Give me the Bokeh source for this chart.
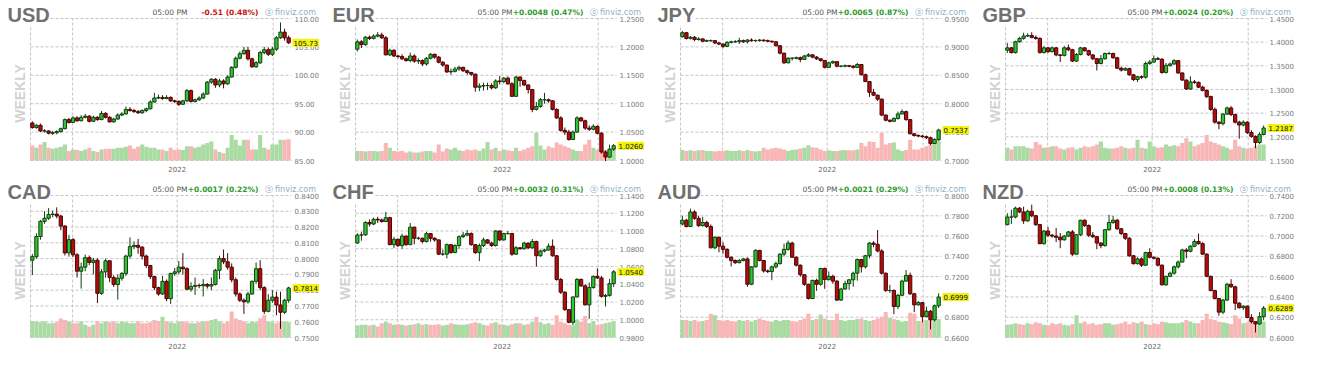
import math
from bokeh.plotting import figure
from bokeh.models import Range1d, Label, ColumnDataSource
from bokeh.layouts import gridplot
from bokeh.embed import file_html
from bokeh.resources import INLINE

# ---------------- data (weekly candles, 64 weeks, last = week of 25 Jul 2022) ----------------
X_GRID = [-0.44, 9.9, 35.6, 59.2]
YEAR_LABEL_X = 35.6
YEAR_LABEL = "2022"

USD_OPEN0 = 91.6
USD_CLOSE = [90.8, 91.2, 90.2, 90.2, 89.8, 89.9, 90.1, 90.6, 92.2, 91.7,
             92.5, 92.0, 92.6, 92.8, 91.9, 92.6, 92.2, 93.3, 92.6, 91.8,
             92.3, 93.0, 93.2, 94.0, 93.8, 93.6, 93.4, 93.8, 94.1, 95.3,
             96.0, 96.1, 95.9, 96.1, 95.5, 95.4, 94.9, 95.5, 97.3, 95.4,
             95.7, 96.0, 96.7, 98.8, 99.3, 98.3, 99.0, 98.5, 99.7, 101.4,
             103.0, 103.8, 104.4, 102.9, 101.5, 102.2, 104.0, 104.5, 103.7, 104.6,
             106.6, 107.6, 106.6, 105.73]
USD_HIGH = [91.9, 91.4, 91.5, 90.5, 90.3, 90.2, 90.3, 90.8, 92.4, 92.5,
            92.8, 92.8, 93.0, 93.2, 93.0, 92.9, 92.8, 93.7, 93.5, 92.8,
            92.5, 93.3, 93.5, 94.5, 94.4, 94.1, 93.9, 94.0, 94.3, 95.6,
            96.9, 96.6, 96.5, 96.5, 96.3, 95.7, 95.6, 95.7, 97.6, 97.5,
            95.9, 96.3, 97.0, 99.0, 99.5, 99.5, 99.4, 99.3, 100.0, 101.6,
            103.3, 104.2, 105.0, 105.0, 103.1, 102.5, 104.3, 105.0, 104.9, 105.0,
            106.9, 109.3, 108.2, 107.0]
USD_LOW = [90.6, 90.6, 90.0, 89.9, 89.6, 89.5, 89.6, 89.9, 90.5, 91.5,
           91.6, 91.8, 91.9, 92.4, 91.7, 91.8, 92.0, 92.1, 92.4, 91.7,
           91.7, 92.2, 92.8, 93.1, 93.6, 93.4, 93.2, 93.2, 93.5, 94.0,
           95.2, 95.8, 95.7, 95.8, 95.3, 95.1, 94.6, 94.8, 95.3, 95.2,
           95.2, 95.5, 95.8, 96.6, 98.5, 97.8, 97.9, 97.7, 98.3, 99.6,
           101.2, 102.8, 103.6, 102.6, 101.3, 101.3, 102.0, 103.7, 103.4, 103.4,
           104.3, 106.4, 106.1, 105.5]
USD_VOL = [47, 40, 50, 58, 40, 37, 40, 43, 50, 30, 35, 33, 30, 35, 40, 30, 27, 35, 37, 37,
           37, 40, 40, 43, 47, 37, 43, 50, 43, 40, 40, 35, 35, 30, 40, 33, 35, 33, 45, 45,
           40, 43, 50, 55, 60, 35, 27, 23, 40, 80, 65, 47, 65, 65, 35, 35, 80, 40, 35, 50,
           50, 65, 65, 67]

EUR_OPEN0 = 1.196
EUR_CLOSE = [1.209, 1.204, 1.217, 1.215, 1.219, 1.221, 1.216, 1.186, 1.194, 1.184,
             1.183, 1.179, 1.176, 1.184, 1.175, 1.176, 1.170, 1.180, 1.187, 1.182,
             1.173, 1.168, 1.156, 1.157, 1.161, 1.164, 1.158, 1.155, 1.152, 1.129,
             1.131, 1.132, 1.132, 1.128, 1.140, 1.139, 1.145, 1.135, 1.113, 1.147,
             1.141, 1.133, 1.125, 1.090, 1.095, 1.107, 1.107, 1.105, 1.090, 1.075,
             1.053, 1.050, 1.037, 1.050, 1.075, 1.070, 1.057, 1.055, 1.060, 1.048,
             1.015, 1.006, 1.020, 1.026]
EUR_HIGH = [1.213, 1.212, 1.219, 1.220, 1.222, 1.226, 1.225, 1.219, 1.197, 1.196,
            1.186, 1.187, 1.181, 1.190, 1.187, 1.180, 1.178, 1.182, 1.189, 1.188,
            1.184, 1.175, 1.169, 1.162, 1.165, 1.167, 1.165, 1.160, 1.156, 1.153,
            1.136, 1.137, 1.137, 1.136, 1.143, 1.149, 1.147, 1.148, 1.138, 1.149,
            1.148, 1.142, 1.134, 1.126, 1.103, 1.110, 1.119, 1.109, 1.106, 1.092,
            1.078, 1.058, 1.054, 1.053, 1.078, 1.077, 1.072, 1.062, 1.064, 1.062,
            1.050, 1.018, 1.028, 1.029]
EUR_LOW = [1.192, 1.198, 1.202, 1.212, 1.213, 1.217, 1.214, 1.185, 1.184, 1.182,
           1.180, 1.177, 1.174, 1.173, 1.172, 1.170, 1.166, 1.167, 1.178, 1.179,
           1.171, 1.165, 1.154, 1.151, 1.155, 1.158, 1.156, 1.151, 1.149, 1.121,
           1.122, 1.123, 1.124, 1.125, 1.126, 1.134, 1.136, 1.133, 1.112, 1.112,
           1.130, 1.131, 1.118, 1.085, 1.088, 1.093, 1.100, 1.102, 1.088, 1.073,
           1.051, 1.045, 1.035, 1.036, 1.049, 1.068, 1.054, 1.052, 1.053, 1.046,
           1.012, 0.999, 1.005, 1.017]
EUR_VOL = [30, 30, 28, 30, 30, 28, 30, 55, 40, 30, 28, 30, 25, 28, 25, 25, 28, 30, 30, 25,
           50, 28, 38, 35, 40, 32, 30, 35, 32, 35, 30, 38, 58, 35, 40, 30, 35, 32, 30, 40,
           30, 35, 40, 45, 87, 47, 35, 45, 40, 57, 50, 45, 40, 35, 30, 30, 50, 65, 40, 35,
           30, 32, 35, 38]

JPY_OPEN0 = 0.918
JPY_CLOSE = [0.925, 0.915, 0.917, 0.913, 0.914, 0.910, 0.911, 0.911, 0.907, 0.905,
             0.901, 0.908, 0.909, 0.909, 0.911, 0.909, 0.912, 0.911, 0.911, 0.912,
             0.911, 0.910, 0.909, 0.902, 0.889, 0.872, 0.880, 0.880, 0.881, 0.878,
             0.884, 0.886, 0.882, 0.879, 0.876, 0.864, 0.872, 0.874, 0.866, 0.866,
             0.867, 0.866, 0.864, 0.869, 0.851, 0.839, 0.820, 0.815, 0.808, 0.780,
             0.771, 0.769, 0.774, 0.782, 0.786, 0.772, 0.747, 0.744, 0.743, 0.742,
             0.740, 0.730, 0.737, 0.7537]
JPY_HIGH = [0.928, 0.926, 0.919, 0.919, 0.917, 0.915, 0.913, 0.913, 0.912, 0.909,
            0.906, 0.910, 0.911, 0.912, 0.916, 0.913, 0.914, 0.915, 0.913, 0.914,
            0.913, 0.913, 0.911, 0.910, 0.903, 0.890, 0.882, 0.882, 0.883, 0.883,
            0.886, 0.889, 0.887, 0.884, 0.880, 0.877, 0.874, 0.876, 0.875, 0.868,
            0.869, 0.868, 0.868, 0.872, 0.870, 0.853, 0.840, 0.826, 0.816, 0.809,
            0.781, 0.772, 0.776, 0.786, 0.790, 0.788, 0.773, 0.748, 0.746, 0.745,
            0.744, 0.742, 0.739, 0.756]
JPY_LOW = [0.916, 0.913, 0.913, 0.910, 0.911, 0.908, 0.909, 0.909, 0.905, 0.903,
           0.898, 0.900, 0.906, 0.907, 0.905, 0.907, 0.906, 0.909, 0.909, 0.909,
           0.909, 0.908, 0.907, 0.901, 0.887, 0.870, 0.871, 0.876, 0.878, 0.873,
           0.877, 0.882, 0.880, 0.877, 0.874, 0.862, 0.863, 0.870, 0.864, 0.864,
           0.864, 0.864, 0.862, 0.863, 0.850, 0.838, 0.812, 0.814, 0.805, 0.778,
           0.769, 0.767, 0.768, 0.772, 0.781, 0.770, 0.746, 0.742, 0.741, 0.740,
           0.738, 0.727, 0.729, 0.735]
JPY_VOL = [33, 30, 32, 30, 32, 33, 30, 30, 28, 30, 30, 32, 30, 30, 32, 30, 33, 30, 28, 30,
           40, 35, 38, 40, 38, 35, 30, 33, 35, 38, 40, 48, 42, 40, 35, 30, 32, 30, 30, 32,
           33, 32, 32, 35, 55, 45, 60, 58, 40, 87, 50, 55, 57, 35, 30, 33, 65, 35, 35, 40,
           45, 50, 60, 65]

GBP_OPEN0 = 1.383
GBP_CLOSE = [1.388, 1.378, 1.401, 1.408, 1.413, 1.414, 1.410, 1.408, 1.378, 1.388,
             1.380, 1.388, 1.373, 1.372, 1.388, 1.384, 1.360, 1.374, 1.388, 1.382,
             1.373, 1.365, 1.355, 1.365, 1.376, 1.376, 1.367, 1.345, 1.341, 1.344,
             1.331, 1.321, 1.327, 1.326, 1.355, 1.358, 1.365, 1.364, 1.336, 1.351,
             1.354, 1.361, 1.335, 1.320, 1.301, 1.316, 1.315, 1.305, 1.298, 1.285,
             1.258, 1.231, 1.228, 1.248, 1.261, 1.247, 1.231, 1.225, 1.231, 1.209,
             1.201, 1.188, 1.205, 1.2187]
GBP_HIGH = [1.398, 1.390, 1.403, 1.411, 1.420, 1.419, 1.421, 1.414, 1.410, 1.392,
            1.390, 1.391, 1.390, 1.375, 1.392, 1.395, 1.386, 1.377, 1.390, 1.389,
            1.384, 1.375, 1.366, 1.373, 1.378, 1.380, 1.378, 1.369, 1.348, 1.347,
            1.346, 1.333, 1.329, 1.330, 1.359, 1.362, 1.372, 1.369, 1.366, 1.356,
            1.357, 1.364, 1.362, 1.336, 1.321, 1.328, 1.320, 1.317, 1.308, 1.300,
            1.287, 1.262, 1.233, 1.250, 1.264, 1.265, 1.249, 1.234, 1.235, 1.233,
            1.214, 1.203, 1.210, 1.224]
GBP_LOW = [1.377, 1.376, 1.376, 1.399, 1.405, 1.411, 1.408, 1.405, 1.376, 1.376,
           1.377, 1.378, 1.370, 1.358, 1.370, 1.381, 1.358, 1.358, 1.372, 1.380,
           1.371, 1.362, 1.340, 1.353, 1.363, 1.373, 1.365, 1.343, 1.338, 1.339,
           1.329, 1.318, 1.316, 1.322, 1.323, 1.352, 1.356, 1.362, 1.333, 1.334,
           1.348, 1.352, 1.333, 1.318, 1.299, 1.299, 1.312, 1.303, 1.296, 1.282,
           1.255, 1.228, 1.216, 1.224, 1.246, 1.244, 1.228, 1.196, 1.222, 1.206,
           1.198, 1.176, 1.185, 1.203]
GBP_VOL = [40, 35, 45, 45, 45, 40, 38, 58, 50, 40, 42, 45, 45, 38, 35, 40, 42, 35, 40, 45,
           42, 45, 50, 60, 40, 38, 38, 40, 45, 40, 38, 40, 65, 40, 38, 60, 45, 40, 42, 50,
           45, 48, 45, 55, 70, 60, 45, 50, 55, 80, 60, 55, 50, 45, 40, 35, 65, 45, 40, 38,
           40, 45, 50, 50]

CAD_OPEN0 = 0.7990
CAD_CLOSE = [0.8012, 0.8140, 0.8236, 0.8256, 0.8280, 0.8282, 0.8270, 0.8206, 0.8036, 0.8120,
             0.8024, 0.7920, 0.7946, 0.8006, 0.7976, 0.7990, 0.7780, 0.7916, 0.7986, 0.7880,
             0.7836, 0.7876, 0.7906, 0.8016, 0.8076, 0.8084, 0.8072, 0.8016, 0.7956, 0.7886,
             0.7816, 0.7776, 0.7856, 0.7746, 0.7906, 0.7916, 0.7946, 0.7936, 0.7806, 0.7824,
             0.7830, 0.7828, 0.7836, 0.7826, 0.7836, 0.7926, 0.8000, 0.7980, 0.7946, 0.7866,
             0.7776, 0.7736, 0.7726, 0.7776, 0.7856, 0.7936, 0.7816, 0.7666, 0.7736, 0.7756,
             0.7706, 0.7660, 0.7736, 0.7814]
CAD_HIGH = [0.8030, 0.8160, 0.8245, 0.8300, 0.8320, 0.8305, 0.8325, 0.8278, 0.8212, 0.8150,
            0.8130, 0.8035, 0.7975, 0.8025, 0.8020, 0.8005, 0.8002, 0.7935, 0.8000, 0.7990,
            0.7895, 0.7900, 0.7915, 0.8025, 0.8135, 0.8110, 0.8125, 0.8080, 0.8025, 0.7960,
            0.7892, 0.7822, 0.7890, 0.7868, 0.7910, 0.7940, 0.7985, 0.8035, 0.7945, 0.7850,
            0.7880, 0.7842, 0.7870, 0.7845, 0.7880, 0.7935, 0.8018, 0.8058, 0.8035, 0.7970,
            0.7880, 0.7786, 0.7748, 0.7790, 0.7862, 0.7975, 0.7990, 0.7825, 0.7775, 0.7800,
            0.7790, 0.7790, 0.7745, 0.7822]
CAD_LOW = [0.7896, 0.8000, 0.8120, 0.8220, 0.8245, 0.8262, 0.8255, 0.8180, 0.8020, 0.8012,
           0.8010, 0.7880, 0.7810, 0.7920, 0.7958, 0.7900, 0.7718, 0.7770, 0.7880, 0.7850,
           0.7820, 0.7740, 0.7860, 0.7890, 0.8000, 0.8060, 0.8030, 0.7995, 0.7940, 0.7870,
           0.7800, 0.7765, 0.7770, 0.7730, 0.7712, 0.7890, 0.7900, 0.7900, 0.7800, 0.7790,
           0.7770, 0.7812, 0.7760, 0.7810, 0.7800, 0.7830, 0.7870, 0.7965, 0.7930, 0.7850,
           0.7760, 0.7725, 0.7650, 0.7715, 0.7770, 0.7840, 0.7800, 0.7648, 0.7660, 0.7720,
           0.7640, 0.7555, 0.7650, 0.7720]
CAD_VOL = [52, 50, 48, 50, 45, 45, 48, 60, 55, 50, 45, 45, 50, 40, 35, 40, 50, 45, 50, 48,
           50, 45, 50, 48, 45, 45, 50, 45, 45, 48, 55, 52, 65, 50, 48, 45, 50, 50, 48, 45,
           45, 48, 50, 52, 55, 58, 50, 45, 50, 82, 60, 55, 50, 45, 50, 48, 60, 70, 50, 48,
           45, 50, 50, 48]

CHF_OPEN0 = 1.0864
CHF_CLOSE = [1.0954, 1.0956, 1.1096, 1.1079, 1.1132, 1.1125, 1.1107, 1.1150, 1.0846, 1.0907,
             1.0836, 1.0943, 1.0846, 1.1043, 1.0918, 1.0918, 1.0882, 1.0971, 1.0918, 1.0900,
             1.0739, 1.0739, 1.0846, 1.0757, 1.0836, 1.0936, 1.0954, 1.0971, 1.0846, 1.0757,
             1.0836, 1.0900, 1.0864, 1.0836, 1.1000, 1.0900, 1.0971, 1.0971, 1.0739, 1.0811,
             1.0800, 1.0864, 1.0811, 1.0882, 1.0721, 1.0775, 1.0786, 1.0829, 1.0721, 1.0454,
             1.0311, 1.0114, 0.9971, 1.0257, 1.0454, 1.0382, 1.0168, 1.0364, 1.0489, 1.0471,
             1.0264, 1.0275, 1.0407, 1.0540]
CHF_HIGH = [1.0975, 1.0990, 1.1110, 1.1130, 1.1150, 1.1160, 1.1140, 1.1215, 1.1160, 1.0935,
            1.0915, 1.0970, 1.0950, 1.1090, 1.1050, 1.0935, 1.0925, 1.0990, 1.0975, 1.0930,
            1.0905, 1.0790, 1.0860, 1.0850, 1.0850, 1.0950, 1.0990, 1.1010, 1.0985, 1.0850,
            1.0860, 1.0925, 1.0910, 1.0880, 1.1010, 1.1005, 1.0980, 1.1000, 1.0980, 1.0830,
            1.0820, 1.0880, 1.0870, 1.0910, 1.0890, 1.0790, 1.0800, 1.0860, 1.0905, 1.0730,
            1.0470, 1.0320, 1.0120, 1.0260, 1.0470, 1.0465, 1.0400, 1.0420, 1.0500, 1.0580,
            1.0495, 1.0290, 1.0460, 1.0560]
CHF_LOW = [1.0855, 1.0890, 1.0945, 1.1050, 1.1065, 1.1090, 1.1095, 1.1100, 1.0840, 1.0810,
           1.0820, 1.0800, 1.0835, 1.0840, 1.0850, 1.0900, 1.0860, 1.0870, 1.0880, 1.0880,
           1.0730, 1.0720, 1.0690, 1.0745, 1.0750, 1.0800, 1.0920, 1.0940, 1.0835, 1.0740,
           1.0660, 1.0820, 1.0855, 1.0820, 1.0825, 1.0885, 1.0890, 1.0960, 1.0720, 1.0730,
           1.0790, 1.0790, 1.0795, 1.0800, 1.0600, 1.0710, 1.0760, 1.0780, 1.0710, 1.0440,
           1.0290, 1.0100, 0.9960, 0.9940, 1.0250, 1.0370, 1.0160, 1.0010, 1.0350, 1.0460,
           1.0250, 1.0150, 1.0260, 1.0370]
CHF_VOL = [38, 40, 40, 38, 40, 35, 45, 50, 45, 40, 42, 40, 38, 40, 42, 45, 40, 42, 40, 40,
           42, 38, 40, 45, 42, 40, 40, 42, 45, 48, 45, 40, 38, 45, 48, 42, 40, 38, 42, 45,
           45, 40, 42, 50, 65, 48, 42, 45, 40, 70, 50, 45, 40, 38, 55, 50, 68, 45, 52, 40,
           42, 45, 48, 52]

AUD_OPEN0 = 0.7719
AUD_CLOSE = [0.7756, 0.7694, 0.7838, 0.7775, 0.7703, 0.7734, 0.7694, 0.7484, 0.7588, 0.7500,
             0.7469, 0.7391, 0.7359, 0.7338, 0.7359, 0.7375, 0.7125, 0.7297, 0.7459, 0.7359,
             0.7256, 0.7250, 0.7297, 0.7328, 0.7422, 0.7469, 0.7531, 0.7391, 0.7313, 0.7219,
             0.7125, 0.6984, 0.7163, 0.7125, 0.7281, 0.7172, 0.7203, 0.7156, 0.6969, 0.7078,
             0.7131, 0.7169, 0.7234, 0.7369, 0.7297, 0.7406, 0.7531, 0.7519, 0.7453, 0.7234,
             0.7063, 0.7063, 0.6906, 0.7016, 0.7156, 0.7213, 0.7031, 0.6922, 0.6944, 0.6806,
             0.6859, 0.6775, 0.6913, 0.6999]
AUD_HIGH = [0.7800, 0.7770, 0.7870, 0.7855, 0.7800, 0.7790, 0.7750, 0.7715, 0.7600, 0.7595,
            0.7540, 0.7480, 0.7400, 0.7370, 0.7375, 0.7385, 0.7390, 0.7305, 0.7470, 0.7462,
            0.7365, 0.7270, 0.7310, 0.7350, 0.7430, 0.7525, 0.7555, 0.7545, 0.7400, 0.7320,
            0.7225, 0.7130, 0.7170, 0.7180, 0.7285, 0.7290, 0.7250, 0.7220, 0.7165, 0.7090,
            0.7160, 0.7175, 0.7250, 0.7380, 0.7375, 0.7415, 0.7540, 0.7550, 0.7660, 0.7470,
            0.7240, 0.7120, 0.7075, 0.7030, 0.7170, 0.7265, 0.7240, 0.7040, 0.6960, 0.6950,
            0.6905, 0.6870, 0.6925, 0.7035]
AUD_LOW = [0.7705, 0.7685, 0.7690, 0.7760, 0.7690, 0.7695, 0.7680, 0.7480, 0.7470, 0.7440,
           0.7425, 0.7380, 0.7300, 0.7325, 0.7330, 0.7350, 0.7100, 0.7115, 0.7290, 0.7350,
           0.7240, 0.7235, 0.7165, 0.7280, 0.7320, 0.7400, 0.7455, 0.7385, 0.7300, 0.7200,
           0.7110, 0.6975, 0.6980, 0.7060, 0.7110, 0.7080, 0.7160, 0.7130, 0.6960, 0.6960,
           0.7070, 0.7070, 0.7100, 0.7160, 0.7240, 0.7280, 0.7380, 0.7490, 0.7440, 0.7220,
           0.7050, 0.7040, 0.6830, 0.6880, 0.7010, 0.7150, 0.7020, 0.6850, 0.6915, 0.6750,
           0.6800, 0.6680, 0.6760, 0.6890]
AUD_VOL = [55, 55, 52, 55, 50, 52, 55, 75, 70, 55, 52, 55, 52, 50, 55, 52, 55, 50, 55, 60,
           55, 52, 50, 55, 52, 55, 55, 52, 50, 55, 60, 75, 55, 58, 72, 60, 55, 55, 75, 55,
           52, 55, 55, 58, 60, 55, 52, 55, 60, 65, 80, 62, 58, 55, 50, 52, 78, 75, 52, 50,
           55, 65, 55, 58]

NZD_OPEN0 = 0.7113
NZD_CLOSE = [0.7188, 0.7188, 0.7275, 0.7238, 0.7150, 0.7244, 0.7200, 0.7113, 0.6925, 0.7050,
             0.7009, 0.7000, 0.6988, 0.6963, 0.7000, 0.7041, 0.6822, 0.7013, 0.7156, 0.7103,
             0.7009, 0.6994, 0.6931, 0.6906, 0.7063, 0.7134, 0.7156, 0.7072, 0.7025, 0.6978,
             0.6806, 0.6728, 0.6775, 0.6713, 0.6838, 0.6791, 0.6781, 0.6713, 0.6519, 0.6603,
             0.6634, 0.6697, 0.6744, 0.6863, 0.6850, 0.6900, 0.6947, 0.6925, 0.6822, 0.6603,
             0.6463, 0.6384, 0.6250, 0.6369, 0.6525, 0.6500, 0.6338, 0.6294, 0.6309, 0.6197,
             0.6156, 0.6134, 0.6206, 0.6289]
NZD_HIGH = [0.7225, 0.7260, 0.7290, 0.7285, 0.7290, 0.7260, 0.7310, 0.7210, 0.7120, 0.7060,
            0.7090, 0.7020, 0.7080, 0.7030, 0.7010, 0.7050, 0.7060, 0.7020, 0.7160, 0.7165,
            0.7115, 0.7040, 0.7000, 0.6940, 0.7070, 0.7210, 0.7200, 0.7170, 0.7080, 0.7030,
            0.6990, 0.6810, 0.6790, 0.6790, 0.6845, 0.6880, 0.6800, 0.6790, 0.6720, 0.6610,
            0.6650, 0.6710, 0.6760, 0.6875, 0.6880, 0.6910, 0.6970, 0.7025, 0.6940, 0.6830,
            0.6610, 0.6470, 0.6390, 0.6380, 0.6540, 0.6575, 0.6510, 0.6350, 0.6320, 0.6315,
            0.6230, 0.6160, 0.6250, 0.6310]
NZD_LOW = [0.7105, 0.7120, 0.7175, 0.7225, 0.7120, 0.7140, 0.7185, 0.7100, 0.6920, 0.6915,
           0.6990, 0.6985, 0.6940, 0.6880, 0.6955, 0.6990, 0.6805, 0.6815, 0.7000, 0.7090,
           0.6990, 0.6980, 0.6870, 0.6880, 0.6895, 0.7050, 0.7120, 0.7060, 0.7010, 0.6960,
           0.6795, 0.6720, 0.6720, 0.6695, 0.6705, 0.6780, 0.6770, 0.6700, 0.6515, 0.6510,
           0.6595, 0.6620, 0.6680, 0.6740, 0.6780, 0.6840, 0.6890, 0.6915, 0.6815, 0.6595,
           0.6455, 0.6375, 0.6215, 0.6230, 0.6360, 0.6490, 0.6270, 0.6285, 0.6270, 0.6190,
           0.6140, 0.6050, 0.6125, 0.6170]
NZD_VOL = [40, 42, 45, 42, 40, 45, 42, 48, 45, 40, 38, 45, 42, 45, 40, 38, 42, 70, 45, 50,
           42, 45, 40, 42, 45, 45, 40, 42, 45, 50, 42, 48, 45, 50, 42, 40, 45, 42, 50, 48,
           45, 45, 45, 48, 55, 50, 45, 45, 55, 75, 58, 55, 50, 48, 45, 42, 70, 60, 45, 48,
           50, 52, 55, 50]

USD_TICKS = [85, 90, 95, 100, 105, 110]
EUR_TICKS = [1.00, 1.05, 1.10, 1.15, 1.20, 1.25]
JPY_TICKS = [0.70, 0.75, 0.80, 0.85, 0.90, 0.95]
GBP_TICKS = [1.15, 1.20, 1.25, 1.30, 1.35, 1.40, 1.45]
CAD_TICKS = [0.75, 0.76, 0.77, 0.78, 0.79, 0.80, 0.81, 0.82, 0.83, 0.84]
CHF_TICKS = [0.98, 1.00, 1.02, 1.04, 1.06, 1.08, 1.10, 1.12, 1.14]
AUD_TICKS = [0.66, 0.68, 0.70, 0.72, 0.74, 0.76, 0.78, 0.80]
NZD_TICKS = [0.60, 0.62, 0.64, 0.66, 0.68, 0.70, 0.72, 0.74]

PANELS = [
    ("USD", USD_OPEN0, USD_CLOSE, USD_HIGH, USD_LOW, USD_VOL, USD_TICKS, "%.2f", "-0.51 (0.48%)", False, "105.73"),
    ("EUR", EUR_OPEN0, EUR_CLOSE, EUR_HIGH, EUR_LOW, EUR_VOL, EUR_TICKS, "%.4f", "+0.0048 (0.47%)", True, "1.0260"),
    ("JPY", JPY_OPEN0, JPY_CLOSE, JPY_HIGH, JPY_LOW, JPY_VOL, JPY_TICKS, "%.4f", "+0.0065 (0.87%)", True, "0.7537"),
    ("GBP", GBP_OPEN0, GBP_CLOSE, GBP_HIGH, GBP_LOW, GBP_VOL, GBP_TICKS, "%.4f", "+0.0024 (0.20%)", True, "1.2187"),
    ("CAD", CAD_OPEN0, CAD_CLOSE, CAD_HIGH, CAD_LOW, CAD_VOL, CAD_TICKS, "%.4f", "+0.0017 (0.22%)", True, "0.7814"),
    ("CHF", CHF_OPEN0, CHF_CLOSE, CHF_HIGH, CHF_LOW, CHF_VOL, CHF_TICKS, "%.4f", "+0.0032 (0.31%)", True, "1.0540"),
    ("AUD", AUD_OPEN0, AUD_CLOSE, AUD_HIGH, AUD_LOW, AUD_VOL, AUD_TICKS, "%.4f", "+0.0021 (0.29%)", True, "0.6999"),
    ("NZD", NZD_OPEN0, NZD_CLOSE, NZD_HIGH, NZD_LOW, NZD_VOL, NZD_TICKS, "%.4f", "+0.0008 (0.13%)", True, "0.6289"),
]

# ---------------- layout / styling ----------------
W, H = 325, 177
BOX_L, BOX_R, BOX_T, BOX_B = 30, 291, 18, 160      # chart box inside each panel (px)
X0, X1 = -0.45, 63.7                               # week index at box left / right
VOL_TOP = 447                                      # relative volume at box top
GREEN, GREEN_EDGE = "#2ec52e", "#143c14"
RED, RED_EDGE = "#b50c0c", "#460606"
VGREEN, VRED = "#a9dba3", "#f8b6b7"
GRID = "#c4c4c4"
SMALL_FONT = "DejaVu Sans"
BIG_FONT = "Liberation Sans"


def sy(canvas_y):
    # Label screen-unit y is measured up from the bottom of the panel
    return H - canvas_y


def make_panel(sym, open0, closes, highs, lows, vols, ticks, fmt, chg, chg_up, price):
    n = len(closes)
    opens = [open0] + closes[:-1]
    up = [c >= o for o, c in zip(opens, closes)]
    src = ColumnDataSource(dict(
        x=list(range(n)),
        top=[max(o, c) for o, c in zip(opens, closes)],
        bot=[min(o, c) for o, c in zip(opens, closes)],
        hi=highs[:n], lo=lows[:n], vol=vols[:n],
        fill=[GREEN if u else RED for u in up],
        edge=[GREEN_EDGE if u else RED_EDGE for u in up],
        vcol=[VGREEN if u else VRED for u in up],
    ))
    t0, t1 = ticks[0], ticks[-1]
    ppx = (BOX_R - BOX_L) / (X1 - X0)
    ppy = (BOX_B - BOX_T) / (t1 - t0)
    ppv = (BOX_B - BOX_T) / VOL_TOP
    p = figure(width=W, height=H, output_backend="svg", toolbar_location=None,
               x_axis_type=None, y_axis_type=None,
               x_range=Range1d(X0 - BOX_L / ppx, X1 + (W - BOX_R) / ppx),
               y_range=Range1d(t0 - (H - BOX_B) / ppy, t1 + BOX_T / ppy),
               min_border=0, min_border_left=0, min_border_right=0,
               min_border_top=0, min_border_bottom=0,
               outline_line_color=None, background_fill_color="white",
               border_fill_color="white")
    p.extra_y_ranges = {"vol": Range1d(-(H - BOX_B) / ppv, VOL_TOP + BOX_T / ppv)}

    # dashed grid (price ticks and date lines)
    p.segment(x0=[X0] * len(ticks), y0=ticks, x1=[X1] * len(ticks), y1=ticks,
              line_color=GRID, line_dash="3 2", line_width=1)
    p.segment(x0=X_GRID, y0=[t0] * len(X_GRID), x1=X_GRID, y1=[t1] * len(X_GRID),
              line_color=GRID, line_dash="3 2", line_width=1)

    # volume underlay
    p.vbar(x="x", width=1.0, top="vol", bottom=0, source=src, y_range_name="vol",
           fill_color="vcol", line_color=None)
    # wicks and bodies
    p.segment(x0="x", y0="lo", x1="x", y1="hi", source=src, line_color="edge", line_width=1)
    p.vbar(x="x", width=0.8, top="top", bottom="bot", source=src,
           fill_color="fill", line_color="edge", line_width=1)

    # price tick labels at right
    for t in ticks:
        p.add_layout(Label(x=BOX_R + 3, y=t, x_units="screen", y_units="data",
                           text=fmt % t, text_align="left", text_baseline="middle",
                           text_font=SMALL_FONT, text_font_size="7px", text_color="#7a7a7a"))
    # year label
    p.add_layout(Label(x=YEAR_LABEL_X, y=sy(168), x_units="data", y_units="screen",
                       text=YEAR_LABEL, text_align="center", text_baseline="middle",
                       text_font=SMALL_FONT, text_font_size="7px", text_color="#666666"))
    # titles and header
    p.add_layout(Label(x=7, y=sy(3), x_units="screen", y_units="screen",
                       text=sym, text_align="left", text_baseline="top",
                       text_font=BIG_FONT, text_font_style="bold", text_font_size="20px",
                       text_color="#707070", background_fill_color="white"))
    p.add_layout(Label(x=19, y=sy(93), x_units="screen", y_units="screen",
                       text="WEEKLY", angle=math.pi / 2, text_align="center",
                       text_baseline="middle", text_font=BIG_FONT, text_font_style="bold",
                       text_font_size="14px", text_color="#d2d2d2"))
    p.add_layout(Label(x=187, y=sy(11.5), x_units="screen", y_units="screen",
                       text="05:00 PM", text_align="right", text_baseline="middle",
                       text_font=SMALL_FONT, text_font_size="7.5px", text_color="#555555"))
    p.add_layout(Label(x=258, y=sy(11.5), x_units="screen", y_units="screen",
                       text=chg, text_align="right", text_baseline="middle",
                       text_font=SMALL_FONT, text_font_style="bold", text_font_size="7.5px",
                       text_color="#2e9a2e" if chg_up else "#c81010"))
    p.add_layout(Label(x=264, y=sy(11.5), x_units="screen", y_units="screen",
                       text="\u24e2 finviz.com", text_align="left", text_baseline="middle",
                       text_font=SMALL_FONT, text_font_size="8px", text_color="#8db0cb"))
    # last price tag
    p.add_layout(Label(x=BOX_R + 1, y=closes[-1], x_units="screen", y_units="data",
                       text=price, text_align="left", text_baseline="middle",
                       text_font=SMALL_FONT, text_font_size="7px", text_color="#111111",
                       background_fill_color="#f3f30f", padding=1))
    return p


figs = [make_panel(*cfg) for cfg in PANELS]
layout = gridplot([figs[:4], figs[4:]], toolbar_location=None)

open("out.html", "w").write(file_html(layout, INLINE))
